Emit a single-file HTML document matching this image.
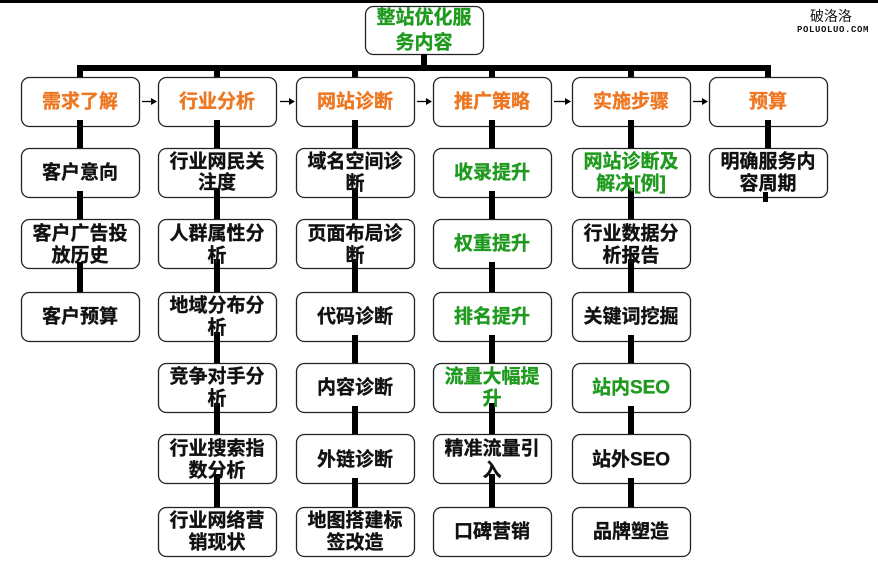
<!DOCTYPE html>
<html><head><meta charset="utf-8"><style>
html,body{margin:0;padding:0;background:#fff;}
svg{display:block;}
text{font-family:"Liberation Sans","Noto Sans CJK SC",sans-serif;font-weight:bold;font-size:19px;text-anchor:middle;dominant-baseline:central;stroke-width:0.35px;}
.o{fill:#ee7722;stroke:#ee7722;}
.g{fill:#1f9a1f;stroke:#1f9a1f;}
.k{fill:#111;stroke:#111;}
</style></head><body>
<svg width="878" height="569" viewBox="0 0 878 569" xmlns="http://www.w3.org/2000/svg">
<rect x="0" y="0" width="878" height="3" fill="#000"/>
<!-- watermark -->
<text x="831" y="16" style="font-weight:normal;font-size:14px;fill:#111;stroke:none">破洛洛</text>
<text x="833" y="30" style="font-family:'Liberation Mono',monospace;font-weight:bold;font-size:9px;letter-spacing:0.6px;fill:#111;stroke:none">POLUOLUO.COM</text>

<!-- root -->
<rect x="365.5" y="6.5" width="118" height="48" rx="8" fill="#fff" stroke="#222" stroke-width="1.3"/>
<!-- connectors top -->
<rect x="421" y="54" width="6" height="14" fill="#000"/>
<rect x="77" y="65" width="694" height="6" fill="#000"/>
<rect x="77" y="65" width="6" height="12" fill="#000"/>
<rect x="214" y="65" width="6" height="12" fill="#000"/>
<rect x="352" y="65" width="6" height="12" fill="#000"/>
<rect x="489" y="65" width="6" height="12" fill="#000"/>
<rect x="628" y="65" width="6" height="12" fill="#000"/>
<rect x="765" y="65" width="6" height="12" fill="#000"/>

<!-- boxes -->
<g fill="#fff" stroke="#222" stroke-width="1.3">
<rect x="21.5" y="77.5" width="118" height="49" rx="8"/>
<rect x="158.5" y="77.5" width="118" height="49" rx="8"/>
<rect x="296.5" y="77.5" width="118" height="49" rx="8"/>
<rect x="433.5" y="77.5" width="118" height="49" rx="8"/>
<rect x="572.5" y="77.5" width="118" height="49" rx="8"/>
<rect x="709.5" y="77.5" width="118" height="49" rx="8"/>
<rect x="21.5" y="148.5" width="118" height="49" rx="8"/>
<rect x="21.5" y="219.5" width="118" height="49" rx="8"/>
<rect x="21.5" y="292.5" width="118" height="49" rx="8"/>
<rect x="158.5" y="148.5" width="118" height="49" rx="8"/>
<rect x="158.5" y="219.5" width="118" height="49" rx="8"/>
<rect x="158.5" y="292.5" width="118" height="49" rx="8"/>
<rect x="158.5" y="363.5" width="118" height="49" rx="8"/>
<rect x="158.5" y="434.5" width="118" height="49" rx="8"/>
<rect x="158.5" y="507.5" width="118" height="49" rx="8"/>
<rect x="296.5" y="148.5" width="118" height="49" rx="8"/>
<rect x="296.5" y="219.5" width="118" height="49" rx="8"/>
<rect x="296.5" y="292.5" width="118" height="49" rx="8"/>
<rect x="296.5" y="363.5" width="118" height="49" rx="8"/>
<rect x="296.5" y="434.5" width="118" height="49" rx="8"/>
<rect x="296.5" y="507.5" width="118" height="49" rx="8"/>
<rect x="433.5" y="148.5" width="118" height="49" rx="8"/>
<rect x="433.5" y="219.5" width="118" height="49" rx="8"/>
<rect x="433.5" y="292.5" width="118" height="49" rx="8"/>
<rect x="433.5" y="363.5" width="118" height="49" rx="8"/>
<rect x="433.5" y="434.5" width="118" height="49" rx="8"/>
<rect x="433.5" y="507.5" width="118" height="49" rx="8"/>
<rect x="572.5" y="148.5" width="118" height="49" rx="8"/>
<rect x="572.5" y="219.5" width="118" height="49" rx="8"/>
<rect x="572.5" y="292.5" width="118" height="49" rx="8"/>
<rect x="572.5" y="363.5" width="118" height="49" rx="8"/>
<rect x="572.5" y="434.5" width="118" height="49" rx="8"/>
<rect x="572.5" y="507.5" width="118" height="49" rx="8"/>
<rect x="709.5" y="148.5" width="118" height="49" rx="8"/>
</g>

<!-- vertical connectors -->
<g fill="#000">
<rect x="77" y="120" width="6" height="28"/>
<rect x="77" y="191" width="6" height="28"/>
<rect x="77" y="262" width="6" height="30"/>
<rect x="214" y="120" width="6" height="28"/>
<rect x="214" y="188" width="6" height="31"/>
<rect x="214" y="259" width="6" height="33"/>
<rect x="214" y="332" width="6" height="31"/>
<rect x="214" y="403" width="6" height="31"/>
<rect x="214" y="474" width="6" height="33"/>
<rect x="352" y="120" width="6" height="28"/>
<rect x="352" y="188" width="6" height="31"/>
<rect x="352" y="259" width="6" height="33"/>
<rect x="352" y="335" width="6" height="28"/>
<rect x="352" y="406" width="6" height="28"/>
<rect x="352" y="478" width="6" height="29"/>
<rect x="489" y="120" width="6" height="28"/>
<rect x="489" y="191" width="6" height="28"/>
<rect x="489" y="262" width="6" height="30"/>
<rect x="489" y="335" width="6" height="28"/>
<rect x="489" y="403" width="6" height="31"/>
<rect x="489" y="474" width="6" height="33"/>
<rect x="628" y="120" width="6" height="28"/>
<rect x="628" y="188" width="6" height="31"/>
<rect x="628" y="259" width="6" height="33"/>
<rect x="628" y="335" width="6" height="28"/>
<rect x="628" y="406" width="6" height="28"/>
<rect x="628" y="478" width="6" height="29"/>
<rect x="765" y="120" width="6" height="28"/>
<rect x="763" y="192" width="5" height="10"/>
</g>

<!-- arrows -->
<g stroke="#000" stroke-width="1.3" fill="#000">
<line x1="142" y1="101.5" x2="151" y2="101.5"/>
<polygon points="151,98 157,101.5 151,105" stroke="none"/>
<line x1="280" y1="101.5" x2="289" y2="101.5"/>
<polygon points="289,98 295,101.5 289,105" stroke="none"/>
<line x1="417" y1="101.5" x2="426" y2="101.5"/>
<polygon points="426,98 432,101.5 426,105" stroke="none"/>
<line x1="554" y1="101.5" x2="565" y2="101.5"/>
<polygon points="565,98 571,101.5 565,105" stroke="none"/>
<line x1="693" y1="101.5" x2="702" y2="101.5"/>
<polygon points="702,98 708,101.5 702,105" stroke="none"/>
</g>

<!-- texts -->
<text class="g" x="424" y="18">整站优化服</text>
<text class="g" x="424" y="43">务内容</text>

<text class="o" x="80" y="102">需求了解</text>
<text class="o" x="217" y="102">行业分析</text>
<text class="o" x="355" y="102">网站诊断</text>
<text class="o" x="492" y="102">推广策略</text>
<text class="o" x="631" y="102">实施步骤</text>
<text class="o" x="768" y="102">预算</text>

<text class="k" x="80" y="173">客户意向</text>
<text class="k" x="80" y="234">客户广告投</text>
<text class="k" x="80" y="256">放历史</text>
<text class="k" x="80" y="317">客户预算</text>

<text class="k" x="217" y="162">行业网民关</text>
<text class="k" x="217" y="183">注度</text>
<text class="k" x="217" y="234">人群属性分</text>
<text class="k" x="217" y="256">析</text>
<text class="k" x="217" y="306">地域分布分</text>
<text class="k" x="217" y="328">析</text>
<text class="k" x="217" y="377">竞争对手分</text>
<text class="k" x="217" y="399">析</text>
<text class="k" x="217" y="449">行业搜索指</text>
<text class="k" x="217" y="471">数分析</text>
<text class="k" x="217" y="521">行业网络营</text>
<text class="k" x="217" y="543">销现状</text>

<text class="k" x="355" y="162">域名空间诊</text>
<text class="k" x="355" y="184">断</text>
<text class="k" x="355" y="234">页面布局诊</text>
<text class="k" x="355" y="256">断</text>
<text class="k" x="355" y="317">代码诊断</text>
<text class="k" x="355" y="388">内容诊断</text>
<text class="k" x="355" y="460">外链诊断</text>
<text class="k" x="355" y="521">地图搭建标</text>
<text class="k" x="355" y="543">签改造</text>

<text class="g" x="492" y="173">收录提升</text>
<text class="g" x="492" y="244">权重提升</text>
<text class="g" x="492" y="317">排名提升</text>
<text class="g" x="492" y="377">流量大幅提</text>
<text class="g" x="492" y="399">升</text>
<text class="k" x="492" y="449">精准流量引</text>
<text class="k" x="492" y="471">入</text>
<text class="k" x="492" y="532">口碑营销</text>

<text class="g" x="631" y="162">网站诊断及</text>
<text class="g" x="631" y="184">解决[例]</text>
<text class="k" x="631" y="234">行业数据分</text>
<text class="k" x="631" y="256">析报告</text>
<text class="k" x="631" y="317">关键词挖掘</text>
<text class="g" x="631" y="388">站内SEO</text>
<text class="k" x="631" y="460">站外SEO</text>
<text class="k" x="631" y="532">品牌塑造</text>

<text class="k" x="768" y="162">明确服务内</text>
<text class="k" x="768" y="184">容周期</text>
</svg>
</body></html>
